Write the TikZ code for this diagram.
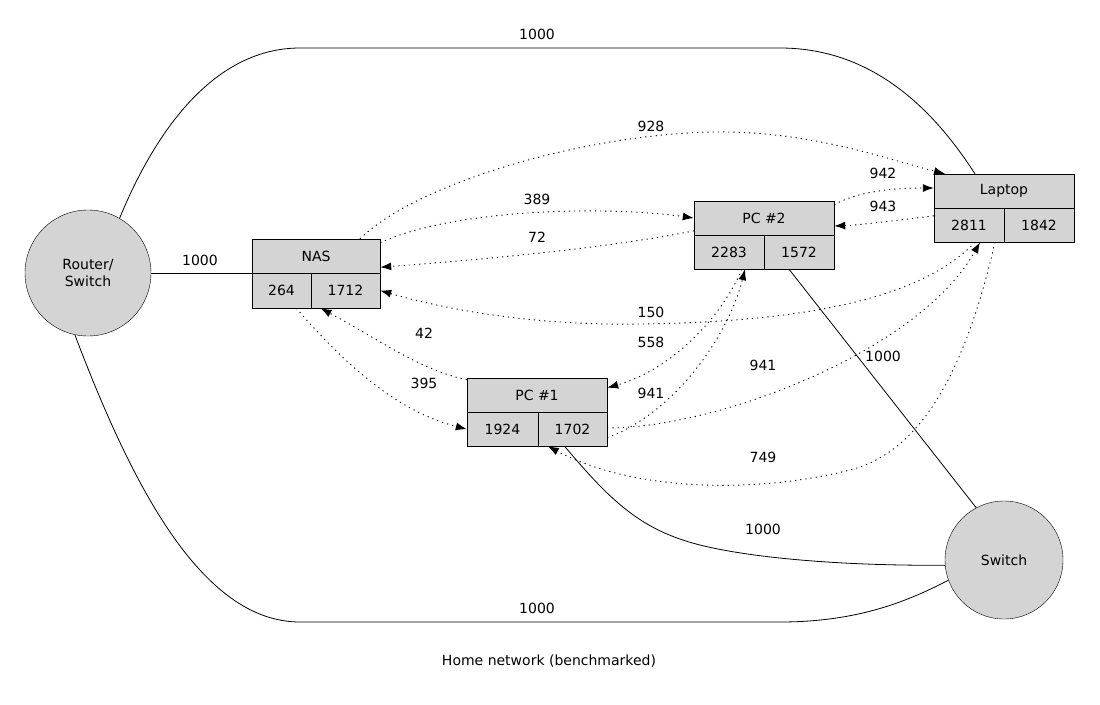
\documentclass[tikz,border=0pt]{standalone}
\usepackage{fontspec}
\setmainfont{DejaVu Sans}
\usetikzlibrary{arrows.meta}
\begin{document}
\begin{tikzpicture}[x=1pt,y=-1pt,
  cell/.style={draw,fill=black!17,minimum height=34pt,inner sep=0pt,font=\fontsize{14}{16}\selectfont},
  circ/.style={draw,fill=black!17,circle,inner sep=0pt,align=center,font=\fontsize{14}{17}\selectfont},
  lbl/.style={font=\fontsize{14}{16}\selectfont},
  link/.style={line width=0.8pt},
  bench/.style={line width=0.9pt,dash pattern=on 1.2pt off 4pt,-{Latex[length=11pt,width=8pt]}}]
\useasboundingbox (0,0) rectangle (1100,704);
\node[circ,minimum size=126pt] (router) at (88,273) {Router/\\Switch};
\node[circ,minimum size=118pt] (switch) at (1004,560) {Switch};
\node[cell,minimum width=128pt] (nas) at (316,256) {NAS};
\node[cell,minimum width=59pt,minimum height=35pt] (nasA) at (281.5,290.5) {264};
\node[cell,minimum width=69pt,minimum height=35pt] (nasB) at (345.5,290.5) {1712};
\node[cell,minimum width=140pt] (pc2) at (764,218) {PC \#2};
\node[cell,minimum width=70pt] (pc2A) at (729,252) {2283};
\node[cell,minimum width=70pt] (pc2B) at (799,252) {1572};
\node[cell,minimum width=140pt] (lap) at (1004,191) {Laptop};
\node[cell,minimum width=70pt] (lapA) at (969,225) {2811};
\node[cell,minimum width=70pt] (lapB) at (1039,225) {1842};
\node[cell,minimum width=140pt] (pc1) at (537,395) {PC \#1};
\node[cell,minimum width=71pt] (pc1A) at (502.5,429) {1924};
\node[cell,minimum width=69pt] (pc1B) at (572.5,429) {1702};
% solid links
\draw[link] (router.60) .. controls (160,120) and (220,48) .. (300,48) -- (780,48) .. controls (880,48) and (940,120) .. ([xshift=-29pt]lap.north);
\node[lbl] (l1) at (537,34) {1000};
\draw[link] (router.east) -- ([yshift=-17pt]nas.west);
\node[lbl] (l2) at (200,260) {1000};
\draw[link] (router.258) .. controls (130,480) and (200,622) .. (300,622) -- (780,622) .. controls (860,622) and (910,600) .. (switch.200);
\node[lbl] (l3) at (537,608) {1000};
\draw[link] ([xshift=-10pt]pc2B.south) -- (switch.118);
\node[lbl] (l4) at (883,356) {1000};
\draw[link] ([xshift=-8pt]pc1B.south) .. controls (610,500) and (640,530) .. (700,545) .. controls (760,560) and (860,566) .. (switch.185);
\node[lbl] (l5) at (763,529) {1000};
% benchmarks
\draw[bench] ([xshift=44pt]nas.north) .. controls (420,180) and (600,130) .. (730,132) .. controls (820,134) and (890,160) .. ([xshift=-59pt]lap.north);
\node[lbl] (b1) at (651,126) {928};
\draw[bench] ([yshift=-4pt]nas.north east) .. controls (450,210) and (600,205) .. (pc2.west);
\node[lbl] (b2) at (537,199) {389};
\draw[bench] ([yshift=4pt]pc2A.north west) .. controls (600,250) and (450,262) .. ([yshift=6pt]nas.south east);
\node[lbl] (b3) at (537,237) {72};
\draw[bench] ([yshift=-4pt]pc2.north east) .. controls (860,190) and (900,188) .. ([yshift=3pt]lap.west);
\node[lbl] (b4) at (883,173) {942};
\draw[bench] ([yshift=-8pt]lapA.north west) .. controls (900,220) and (860,225) .. ([yshift=-8pt]pc2.east);
\node[lbl] (b5) at (883,206) {943};
\draw[bench] ([xshift=6pt]lapA.south) .. controls (920,300) and (800,322) .. (640,324) .. controls (520,326) and (430,305) .. (nasB.east);
\node[lbl] (b6) at (651,312) {150};
\draw[bench] ([xshift=-15pt]nasA.south east) .. controls (350,370) and (400,412) .. ([yshift=-17pt]pc1.south west);
\node[lbl] (b7) at (424,383) {395};
\draw[bench] ([yshift=-2pt]pc1.north west) .. controls (420,370) and (380,340) .. ([xshift=-25pt]nasB.south);
\node[lbl] (b8) at (424,333) {42};
\draw[bench] ([xshift=13pt]pc2A.south) .. controls (720,320) and (670,370) .. ([yshift=-10pt]pc1.north east);
\node[lbl] (b9) at (651,342) {558};
\draw[bench] ([yshift=-9pt]pc1B.east) .. controls (680,410) and (730,330) .. ([xshift=16pt]pc2A.south);
\node[lbl] (b10) at (651,393) {941};
\draw[bench] ([yshift=1pt]pc1B.east) .. controls (720,428) and (920,350) .. ([xshift=11pt]lapA.south);
\node[lbl] (b11) at (763,365) {941};
\draw[bench] ([xshift=26pt]lapA.south) .. controls (970,350) and (930,450) .. (850,470) .. controls (750,495) and (630,490) .. ([xshift=10pt]pc1B.south west);
\node[lbl] (b12) at (763,457) {749};
\node[lbl] (cap) at (549,661) {Home network (benchmarked)};
\end{tikzpicture}
\end{document}
